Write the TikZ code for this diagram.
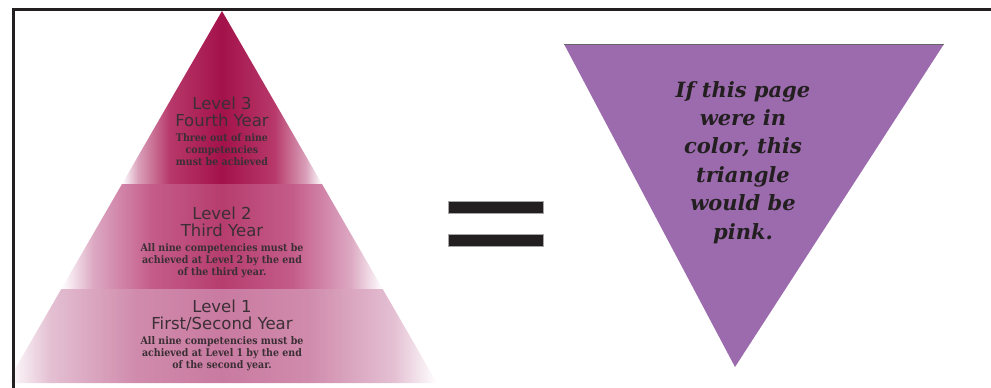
\documentclass[tikz,border=0pt]{standalone}
\usepackage{fontspec}
\usepackage{xcolor}
\usepackage{tikz}
\newfontfamily\titlefont{DejaVu Sans}
\newfontfamily\descfont[FakeStretch=0.9]{DejaVu Serif}
\newfontfamily\notefont{DejaVu Serif}

\definecolor{inkdark}{HTML}{231F20}
\definecolor{labelgray}{HTML}{3B2F35}
\definecolor{notepurple}{HTML}{9B6BAE}
\definecolor{threeEdge}{HTML}{D9A0BA}
\definecolor{threeMid}{HTML}{B7386A}
\definecolor{threeCore}{HTML}{A3124A}
\definecolor{twoEdge}{HTML}{DCA8C2}
\definecolor{twoMid}{HTML}{C45C8A}
\definecolor{twoCore}{HTML}{B63D6E}
\definecolor{oneEdge}{HTML}{E4C0D3}
\definecolor{oneMid}{HTML}{D08BAC}
\definecolor{oneCore}{HTML}{C97AA0}

% fade to white at the sides of each layer
\pgfdeclarehorizontalshading{lvthree}{100bp}{color(0bp)=(white); color(25bp)=(white);
  color(29bp)=(threeEdge); color(37bp)=(threeMid); color(50bp)=(threeCore);
  color(63bp)=(threeMid); color(71bp)=(threeEdge); color(75bp)=(white); color(100bp)=(white)}
\pgfdeclarehorizontalshading{lvtwo}{100bp}{color(0bp)=(white); color(25bp)=(white);
  color(30bp)=(twoEdge); color(39bp)=(twoMid); color(50bp)=(twoCore);
  color(61bp)=(twoMid); color(70bp)=(twoEdge); color(75bp)=(white); color(100bp)=(white)}
\pgfdeclarehorizontalshading{lvone}{100bp}{color(0bp)=(white); color(25bp)=(white);
  color(30bp)=(oneEdge); color(40bp)=(oneMid); color(50bp)=(oneCore);
  color(60bp)=(oneMid); color(70bp)=(oneEdge); color(75bp)=(white); color(100bp)=(white)}

\tikzset{
  lvtitle/.style={font=\titlefont\fontsize{16.5}{16.5}\selectfont, text=labelgray,
    align=center, inner sep=0pt, anchor=north},
  lvdesc/.style={font=\descfont\bfseries\fontsize{10.5}{12.2}\selectfont, text=labelgray,
    align=center, inner sep=0pt, anchor=north},
  notetext/.style={font=\notefont\bfseries\itshape\fontsize{21}{28.4}\selectfont,
    text=inkdark, align=center, inner sep=0pt, anchor=north},
  eqbar/.style={fill=inkdark, draw=gray!70, line width=0.6pt},
  frameline/.style={draw=inkdark, line width=3pt}
}

\begin{document}
\begin{tikzpicture}[x=1pt,y=-1pt]
  \useasboundingbox (0,0) rectangle (991,388);
  \clip (0,0) rectangle (991,388);

  % pyramid layers
  \shade[shading=lvthree] (222,11) -- (322,184) -- (122,184) -- cycle;
  \shade[shading=lvtwo] (122,184) -- (322,184) -- (382.7,289) -- (61.3,289) -- cycle;
  \shade[shading=lvone] (61.3,289) -- (382.7,289) -- (437,383) -- (7,383) -- cycle;

  % layer labels
  \node[lvtitle] (titlethree) at (222,97) {Level 3\\Fourth Year};
  \node[lvdesc] (descthree) at (222,133) {Three out of nine\\competencies\\must be achieved};
  \node[lvtitle] (titletwo) at (222,207) {Level 2\\Third Year};
  \node[lvdesc] (desctwo) at (222,243) {All nine competencies must be\\achieved at Level 2 by the end\\of the third year.};
  \node[lvtitle] (titleone) at (222,300) {Level 1\\First/Second Year};
  \node[lvdesc] (descone) at (222,336) {All nine competencies must be\\achieved at Level 1 by the end\\of the second year.};

  % equals sign
  \foreach \y in {201,234.3}{
    \draw[eqbar] (448,\y) rectangle (543,\y+12.3);
  }

  % inverted triangle
  \fill[notepurple] (564,44) -- (944,44) -- (735,367) -- cycle;
  \draw[gray!80!black, line width=0.8pt] (564,44) -- (944,44);
  \node[notetext] (note) at (743,81) {If this page\\were in\\color, this\\triangle\\would be\\pink.};

  % frame
  \draw[frameline] (13,400) -- (13,9.5) -- (1000,9.5);

\end{tikzpicture}
\end{document}
